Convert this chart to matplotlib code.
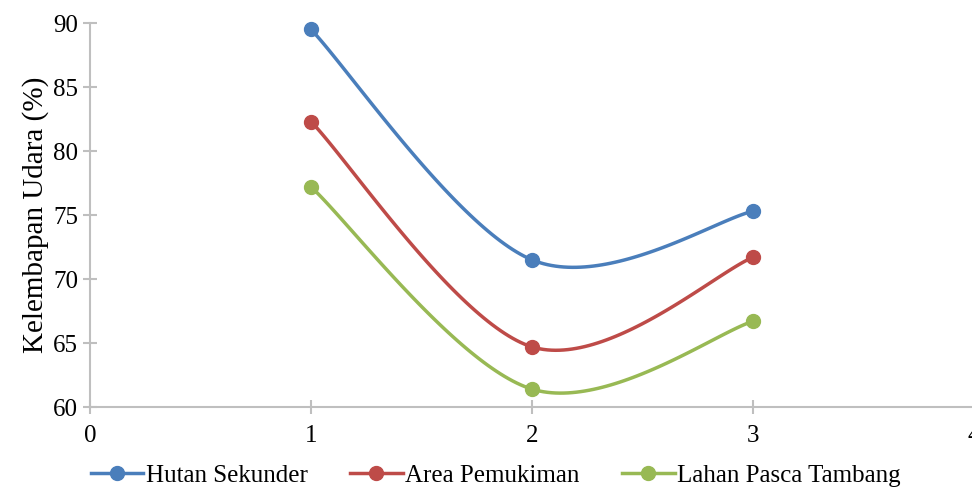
import numpy as np
import matplotlib.pyplot as plt

plt.rcParams['font.family'] = ['Liberation Serif', 'DejaVu Serif']

x = [1, 2, 3]
hutan = [89.5, 71.5, 75.3]
pemukiman = [82.3, 64.7, 71.7]
tambang = [77.2, 61.4, 66.7]
labels = ['Hutan Sekunder', 'Area Pemukiman', 'Lahan Pasca Tambang']
colors = ['#4a7ebb', '#be4b48', '#98b954']


def smooth(xs, ys, n=60):
    # catmull-rom style bezier like excel smoothed lines
    p = np.column_stack([xs, ys]).astype(float)
    p = np.vstack([p[0], p, p[-1]])
    out = []
    for i in range(1, len(p) - 2):
        p0, p1, p2, p3 = p[i - 1], p[i], p[i + 1], p[i + 2]
        c1 = p1 + (p2 - p0) / 6
        c2 = p2 - (p3 - p1) / 6
        t = np.linspace(0, 1, n)[:, None]
        seg = (1 - t) ** 3 * p1 + 3 * (1 - t) ** 2 * t * c1 + 3 * (1 - t) * t ** 2 * c2 + t ** 3 * p2
        out.append(seg)
    out = np.vstack(out)
    return out[:, 0], out[:, 1]


fig = plt.figure(figsize=(9.72, 4.97), dpi=100)
ax = fig.add_axes([0.0926, 0.181, 0.9095, 0.7726])

for ys, lab, c in zip([hutan, pemukiman, tambang], labels, colors):
    sx, sy = smooth(x, ys)
    ax.plot(sx, sy, color=c, lw=2.5, zorder=3)
    ax.plot(x, ys, 'o', color=c, ms=10, zorder=4, clip_on=False)
    ax.plot([], [], '-o', color=c, lw=2.5, ms=10, label=lab)

ax.set_xlim(0, 4)
ax.set_ylim(60, 90)
ax.set_xticks([0, 1, 2, 3, 4])
ax.set_yticks([60, 65, 70, 75, 80, 85, 90])
for s in ['top', 'right']:
    ax.spines[s].set_visible(False)
for s in ['left', 'bottom']:
    ax.spines[s].set_color('#bfbfbf')
    ax.spines[s].set_linewidth(1.5)
ax.tick_params(direction='inout', length=10, width=1.5, color='#bfbfbf',
               labelsize=18, labelcolor='black')
ax.tick_params(axis='x', pad=8)
ax.set_ylabel('Kelembapan Udara (%)', fontsize=21, labelpad=3)

fig.legend(loc='lower center', bbox_to_anchor=(0.51, -0.025), ncol=3, frameon=False,
           fontsize=18, handlelength=2.1, columnspacing=1.7, handletextpad=0.1)

fig.savefig('out.png', dpi=100)
